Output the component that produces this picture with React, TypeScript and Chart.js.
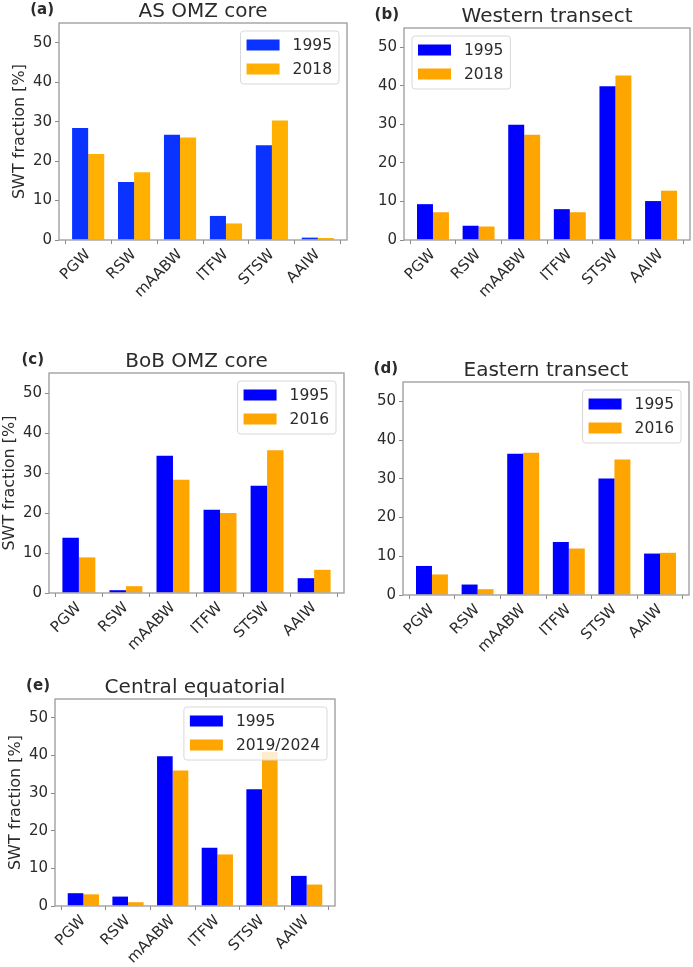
import { useEffect, useRef } from 'react';
import Chart from 'chart.js/auto';

// categories on the x axis
const waterMasses = ['PGW', 'RSW', 'mAABW', 'ITFW', 'STSW', 'AAIW'];
const yTicks = [0, 10, 20, 30, 40, 50];
const yMax = 55;
const yLabel = 'SWT fraction [%]';

// (a) AS OMZ core
const asOmz1995 = [28.4, 14.7, 26.7, 6.1, 24.0, 0.6];
const asOmz2018 = [21.8, 17.2, 26.0, 4.2, 30.3, 0.5];
// (b) Western transect
const western1995 = [9.3, 3.7, 29.9, 8.0, 39.9, 10.1];
const western2018 = [7.2, 3.5, 27.3, 7.2, 42.7, 12.8];
// (c) BoB OMZ core
const bobOmz1995 = [13.8, 0.7, 34.3, 20.8, 26.8, 3.7];
const bobOmz2016 = [8.9, 1.7, 28.3, 20.0, 35.7, 5.8];
// (d) Eastern transect
const eastern1995 = [7.5, 2.7, 36.5, 13.7, 30.1, 10.7];
const eastern2016 = [5.3, 1.5, 36.7, 12.0, 35.0, 10.9];
// (e) Central equatorial
const central1995 = [3.4, 2.5, 39.8, 15.5, 31.0, 8.0];
const central2019 = [3.1, 1.0, 36.0, 13.7, 40.9, 5.7];

const family = '"DejaVu Sans", sans-serif';
const textColor = '#2b2b2b';

interface Panel {
  letter: string;
  title: string;
  years: string[];
  first: number[];
  second: number[];
  colors: string[];
  legendLeft: boolean;
  showYLabel: boolean;
  // plot frame on the page
  box: { left: number; top: number; right: number; bottom: number };
}

const panels: Panel[] = [
  {
    letter: 'a', title: 'AS OMZ core', years: ['1995', '2018'],
    first: asOmz1995, second: asOmz2018, colors: ['#0a33ff', '#ffb000'],
    legendLeft: false, showYLabel: true,
    box: { left: 59, top: 23, right: 347, bottom: 240 },
  },
  {
    letter: 'b', title: 'Western transect', years: ['1995', '2018'],
    first: western1995, second: western2018, colors: ['#0000ff', '#ffa500'],
    legendLeft: true, showYLabel: false,
    box: { left: 404, top: 28, right: 690, bottom: 240 },
  },
  {
    letter: 'c', title: 'BoB OMZ core', years: ['1995', '2016'],
    first: bobOmz1995, second: bobOmz2016, colors: ['#0000ff', '#ffa500'],
    legendLeft: false, showYLabel: true,
    box: { left: 49, top: 373, right: 344, bottom: 593 },
  },
  {
    letter: 'd', title: 'Eastern transect', years: ['1995', '2016'],
    first: eastern1995, second: eastern2016, colors: ['#0000ff', '#ffa500'],
    legendLeft: false, showYLabel: false,
    box: { left: 403, top: 382, right: 689, bottom: 595 },
  },
  {
    letter: 'e', title: 'Central equatorial', years: ['1995', '2019/2024'],
    first: central1995, second: central2019, colors: ['#0000ff', '#ffa500'],
    legendLeft: false, showYLabel: true,
    box: { left: 55, top: 699, right: 335, bottom: 906 },
  },
];

// canvas margins around the frame
const M_LEFT = 48;
const M_TOP = 23;
const M_RIGHT = 4;
const M_BOTTOM = 80;

// frame, title, panel letter, y label and a matplotlib-like legend
const decorations = (p: Panel) => ({
  id: 'decorations',
  afterDatasetsDraw(chart: Chart) {
    const { ctx, chartArea: a } = chart;
    ctx.save();
    ctx.strokeStyle = '#9a9a9a';
    ctx.lineWidth = 1.3;
    ctx.strokeRect(a.left, a.top, a.right - a.left, a.bottom - a.top);

    ctx.fillStyle = textColor;
    ctx.font = `20px ${family}`;
    ctx.textAlign = 'center';
    ctx.textBaseline = 'alphabetic';
    ctx.fillText(p.title, (a.left + a.right) / 2, a.top - 6);

    ctx.font = `bold 15px ${family}`;
    ctx.textAlign = 'right';
    ctx.fillText(`(${p.letter})`, a.left - 5, a.top - 9);

    if (p.showYLabel) {
      ctx.save();
      ctx.translate(a.left - 39, (a.top + a.bottom) / 2);
      ctx.rotate(-Math.PI / 2);
      ctx.font = `16px ${family}`;
      ctx.textAlign = 'center';
      ctx.textBaseline = 'middle';
      ctx.fillText(yLabel, 0, 0);
      ctx.restore();
    }

    // legend
    ctx.font = `15.5px ${family}`;
    const sets = chart.data.datasets;
    const textW = Math.max(...sets.map((d) => ctx.measureText(String(d.label)).width));
    const w = 6 + 33 + 13 + textW + 7;
    const h = 53;
    const x = p.legendLeft ? a.left + 8 : a.right - 8 - w;
    const y = a.top + 8;
    ctx.fillStyle = 'rgba(255,255,255,0.8)';
    ctx.strokeStyle = '#d8d8d8';
    ctx.lineWidth = 1;
    ctx.beginPath();
    ctx.roundRect(x, y, w, h, 3);
    ctx.fill();
    ctx.stroke();
    sets.forEach((d, i) => {
      const cy = y + 14 + i * 24;
      ctx.fillStyle = String(d.backgroundColor);
      ctx.fillRect(x + 6, cy - 5.5, 33, 11);
      ctx.fillStyle = textColor;
      ctx.textAlign = 'left';
      ctx.textBaseline = 'middle';
      ctx.fillText(String(d.label), x + 52, cy + 1);
    });
    ctx.restore();
  },
});

const PanelChart = ({ panel }: { panel: Panel }) => {
  const canvasRef = useRef<HTMLCanvasElement | null>(null);
  const { box } = panel;
  const width = box.right - box.left + M_LEFT + M_RIGHT;
  const height = box.bottom - box.top + M_TOP + M_BOTTOM;

  useEffect(() => {
    if (!canvasRef.current) return;
    const toPoints = (vals: number[]) => vals.map((v, i) => ({ x: i, y: v }));
    const tickStyle = { color: textColor, font: { family, size: 15 } };
    const chart = new Chart(canvasRef.current, {
      type: 'bar',
      data: {
        datasets: [
          { label: panel.years[0], data: toPoints(panel.first), backgroundColor: panel.colors[0], borderWidth: 0 },
          { label: panel.years[1], data: toPoints(panel.second), backgroundColor: panel.colors[1], borderWidth: 0 },
        ],
      },
      options: {
        responsive: false,
        animation: false,
        devicePixelRatio: 1,
        datasets: { bar: { categoryPercentage: 0.7, barPercentage: 1.0 } },
        layout: { padding: { left: M_LEFT - 40, top: M_TOP, right: M_RIGHT, bottom: M_BOTTOM - 60 } },
        plugins: { legend: { display: false }, title: { display: false }, tooltip: { enabled: false } },
        scales: {
          x: {
            type: 'linear',
            min: -0.635,
            max: waterMasses.length - 1 + 0.635,
            bounds: 'data',
            offset: false,
            afterBuildTicks: (s: any) => { s.ticks = waterMasses.map((_, i) => ({ value: i })); },
            afterFit: (s: any) => { s.height = 60; },
            ticks: {
              ...tickStyle,
              autoSkip: false,
              minRotation: 45,
              maxRotation: 45,
              padding: 2,
              callback: (v: any) => waterMasses[Math.round(Number(v))] ?? '',
            },
            grid: { drawOnChartArea: false, drawTicks: true, tickLength: 4, color: '#8a8a8a' },
            border: { display: false },
          },
          y: {
            type: 'linear',
            min: 0,
            max: yMax,
            bounds: 'data',
            afterBuildTicks: (s: any) => { s.ticks = yTicks.map((v) => ({ value: v })); },
            afterFit: (s: any) => { s.width = 40; },
            ticks: { ...tickStyle, padding: 3 },
            grid: { drawOnChartArea: false, drawTicks: true, tickLength: 4, color: '#8a8a8a' },
            border: { display: false },
          },
        },
      },
      plugins: [decorations(panel)],
    });
    return () => chart.destroy();
  }, [panel]);

  return (
    <canvas
      ref={canvasRef}
      width={width}
      height={height}
      style={{ position: 'absolute', left: box.left - M_LEFT, top: box.top - M_TOP, width, height }}
    />
  );
};

export default function App() {
  return (
    <div style={{ position: 'absolute', left: 0, top: 0, width: 693, height: 967, overflow: 'hidden', background: '#fff' }}>
      {panels.map((p) => (
        <PanelChart key={p.letter} panel={p} />
      ))}
    </div>
  );
}
